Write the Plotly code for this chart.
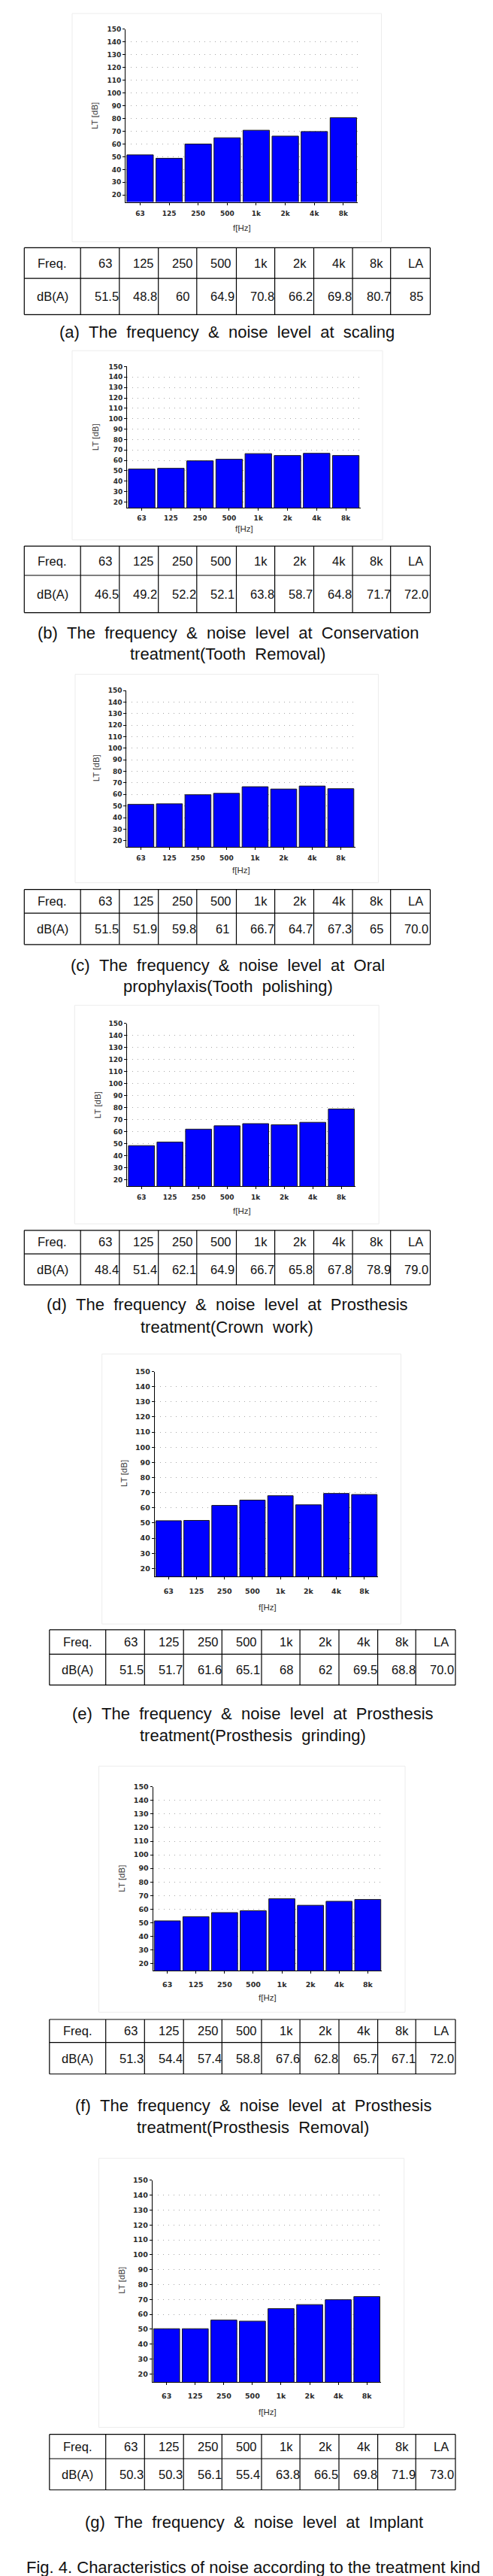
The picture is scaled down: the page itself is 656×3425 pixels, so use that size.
import plotly.graph_objects as go

W, H = 656, 3425

# ---------------- data ----------------
freq_labels = ["63", "125", "250", "500", "1k", "2k", "4k", "8k"]
table_header = ["Freq.", "63", "125", "250", "500", "1k", "2k", "4k", "8k", "LA"]
row_label = "dB(A)"
y_ticks = list(range(20, 151, 10))

bars_a = [51.5, 48.8, 60, 64.9, 70.8, 66.2, 69.8, 80.7]
bars_b = [51.7, 52.4, 59.6, 61.1, 66.5, 64.7, 66.8, 64.7]
bars_c = [51.5, 51.9, 59.8, 61, 66.7, 64.7, 67.3, 65]
bars_d = [48.4, 51.4, 62.1, 64.9, 66.7, 65.8, 67.8, 78.9]
bars_e = [51.5, 51.7, 61.6, 65.1, 68, 62, 69.5, 68.8]
bars_f = [51.3, 54.4, 57.4, 58.8, 67.6, 62.8, 65.7, 67.1]
bars_g = [50.3, 50.3, 56.1, 55.4, 63.8, 66.5, 69.8, 71.9]

table_a = ["51.5", "48.8", "60", "64.9", "70.8", "66.2", "69.8", "80.7", "85"]
table_b = ["46.5", "49.2", "52.2", "52.1", "63.8", "58.7", "64.8", "71.7", "72.0"]
table_c = ["51.5", "51.9", "59.8", "61", "66.7", "64.7", "67.3", "65", "70.0"]
table_d = ["48.4", "51.4", "62.1", "64.9", "66.7", "65.8", "67.8", "78.9", "79.0"]
table_e = ["51.5", "51.7", "61.6", "65.1", "68", "62", "69.5", "68.8", "70.0"]
table_f = ["51.3", "54.4", "57.4", "58.8", "67.6", "62.8", "65.7", "67.1", "72.0"]
table_g = ["50.3", "50.3", "56.1", "55.4", "63.8", "66.5", "69.8", "71.9", "73.0"]

cap_a = ["(a) The frequency & noise level at scaling"]
cap_b = ["(b) The frequency & noise level at Conservation", "treatment(Tooth Removal)"]
cap_c = ["(c) The frequency & noise level at Oral", "prophylaxis(Tooth polishing)"]
cap_d = ["(d) The frequency & noise level at Prosthesis", "treatment(Crown work)"]
cap_e = ["(e) The frequency & noise level at Prosthesis", "treatment(Prosthesis grinding)"]
cap_f = ["(f) The frequency & noise level at Prosthesis", "treatment(Prosthesis Removal)"]
cap_g = ["(g) The frequency & noise level at Implant"]
fig_caption = "Fig. 4. Characteristics of noise according to the treatment kind"
x_title = "f[Hz]"
y_title = "LT [dB]"

# ---------------- layout (pixel positions) ----------------
COLS = [24.3, 99.2, 150.8, 202.7, 253.8, 306.5, 357.6, 409.5, 461.1, 511.7, 564.5]
panels = [
    dict(bars=bars_a, table=table_a, cap=cap_a, box=(88, 4, 499.6, 308),
         plot=(159.1, 468.2, 25, 245.7), fx=(314, 289.3), lt=(118, 140), xlab=14,
         rows=(316, 356.7, 405), dx=0, cap_y=[428.3], cap_cx=294, fs=9),
    dict(bars=bars_b, table=table_b, cap=cap_b, box=(88, 453, 501, 705),
         plot=(161.2, 471.5, 474.3, 654.7), fx=(317, 690), lt=(119.3, 568), xlab=12,
         rows=(713.3, 752.3, 802), dx=0, cap_y=[829.3, 857.3], cap_cx=295, fs=9),
    dict(bars=bars_c, table=table_c, cap=cap_c, box=(92, 884, 495.4, 1161.7),
         plot=(160.4, 464.5, 905.7, 1105.7), fx=(313, 1145), lt=(120, 1009), xlab=13,
         rows=(1170.7, 1202.3, 1244), dx=0, cap_y=[1271.7, 1300], cap_cx=295, fs=9),
    dict(bars=bars_d, table=table_d, cap=cap_d, box=(91.3, 1325, 496.2, 1616),
         plot=(161.2, 465.2, 1349.3, 1557.3), fx=(314, 1598.3), lt=(121.4, 1457.3), xlab=13,
         rows=(1624.7, 1656, 1697.3), dx=0, cap_y=[1724, 1753.3], cap_cx=294, fs=9),
    dict(bars=bars_e, table=table_e, cap=cap_e, box=(127.7, 1789.3, 525.5, 2149),
         plot=(197.7, 495.4, 1812.7, 2075), fx=(347.6, 2126.7), lt=(157, 1948.3), xlab=17,
         rows=(2156.7, 2189.3, 2230.3), dx=33.5, cap_y=[2268.3, 2297.3], cap_cx=328, fs=9.5),
    dict(bars=bars_f, table=table_f, cap=cap_f, box=(123.5, 2338.3, 531, 2666),
         plot=(195.6, 500.4, 2366, 2601), fx=(348.4, 2646.7), lt=(154, 2488), xlab=16,
         rows=(2675.7, 2706.3, 2748.3), dx=33.5, cap_y=[2790.7, 2819], cap_cx=328.7, fs=9.5),
    dict(bars=bars_g, table=table_g, cap=cap_g, box=(123.5, 2860.7, 529.7, 3219),
         plot=(194.7, 499.2, 2890, 3147.7), fx=(347.6, 3198.3), lt=(153.7, 3023.3), xlab=17,
         rows=(3228.3, 3260.7, 3302.3), dx=33.5, cap_y=[3345], cap_cx=329.8, fs=9.5),
]

YMIN = 14.5
TICK_FONT = "DejaVu Sans"
TEXT_FONT = "Liberation Sans, Arial, sans-serif"
TABLE_FS = 16.5
CAP_FS = 22

AW = {'0': .556, '1': .556, '2': .556, '3': .556, '4': .556, '5': .556, '6': .556,
      '7': .556, '8': .556, '9': .556, '.': .278, 'k': .5, 'L': .556, 'A': .667}


def tw(s, size):
    return sum(AW.get(c, .556) for c in s) * size


def px(x):
    return x / W


def py(y):
    return 1 - y / H


fig = go.Figure()
annotations = []
shapes = []
axes = {}

for i, p in enumerate(panels, start=1):
    xa = 'x' if i == 1 else f'x{i}'
    ya = 'y' if i == 1 else f'y{i}'
    xl = 'xaxis' if i == 1 else f'xaxis{i}'
    yl = 'yaxis' if i == 1 else f'yaxis{i}'
    x0, x1, y150, y20 = p['plot']
    per = (y20 - y150) / 130.0
    ybot = y20 + (20 - YMIN) * per

    fig.add_trace(go.Bar(
        x=freq_labels, y=p['bars'], xaxis=xa, yaxis=ya,
        marker=dict(color='#0000ff', line=dict(color='#1a1a1a', width=1)),
        showlegend=False, hoverinfo='skip'))

    axes[xl] = dict(domain=[px(x0), px(x1)], anchor=ya, type='category',
                    categoryorder='array', categoryarray=freq_labels,
                    range=[-0.5, 7.5], showline=True, linecolor='black', linewidth=1,
                    ticks='outside', ticklen=3, tickcolor='black', tickwidth=1,
                    tickfont=dict(family=TICK_FONT, size=p['fs'], color='#2a2a2a', weight='bold'),
                    ticklabelstandoff=int(max(0, p['xlab'] - 10)), showgrid=False, zeroline=False,
                    fixedrange=True)
    axes[yl] = dict(domain=[py(ybot), py(y150)], anchor=xa, range=[YMIN, 150],
                    tickmode='array', tickvals=y_ticks,
                    showline=True, linecolor='black', linewidth=1,
                    ticks='outside', ticklen=3, tickcolor='black', tickwidth=1,
                    tickfont=dict(family=TICK_FONT, size=p['fs'], color='#2a2a2a', weight='bold'),
                    showgrid=True, gridcolor='#a8a8a8', gridwidth=1, griddash='1px,6px',
                    zeroline=False, fixedrange=True)

    # chart image frame
    bx0, by0, bx1, by1 = p['box']
    shapes.append(dict(type='rect', xref='paper', yref='paper', x0=px(bx0), x1=px(bx1),
                       y0=py(by1), y1=py(by0), line=dict(color='#ececec', width=1),
                       layer='below'))

    # axis titles
    annotations.append(dict(text=x_title, xref='paper', yref='paper', x=px(p['fx'][0]),
                            y=py(p['fx'][1]), xanchor='center', yanchor='middle',
                            showarrow=False, font=dict(family=TEXT_FONT, size=11.5, color='#333')))
    annotations.append(dict(text=y_title, xref='paper', yref='paper', x=px(p['lt'][0]),
                            y=py(p['lt'][1]), xanchor='center', yanchor='middle', textangle=-90,
                            showarrow=False, font=dict(family=TEXT_FONT, size=11.5, color='#333')))

    # table
    cols = [c + p['dx'] for c in COLS]
    r0, r1, r2 = p['rows']
    for ry in (r0, r1, r2):
        shapes.append(dict(type='line', xref='paper', yref='paper', x0=px(cols[0]), x1=px(cols[-1]),
                           y0=py(ry), y1=py(ry), line=dict(color='black', width=1.2)))
    for cx in cols:
        shapes.append(dict(type='line', xref='paper', yref='paper', x0=px(cx), x1=px(cx),
                           y0=py(r2), y1=py(r0), line=dict(color='black', width=1.2)))
    row_texts = [table_header, [row_label] + p['table']]
    row_centers = [(r0 + r1) / 2, (r1 + r2) / 2]
    for rt, rc in zip(row_texts, row_centers):
        for j, t in enumerate(rt):
            cl, cr = cols[j], cols[j + 1]
            if j == 0:
                xpos, anc = (cl + cr) / 2, 'center'
            else:
                w = tw(t, TABLE_FS)
                if w > (cr - cl) - 26:
                    xpos, anc = cl + 17.5, 'left'
                else:
                    xpos, anc = cr - 8.5, 'right'
            annotations.append(dict(text=t, xref='paper', yref='paper', x=px(xpos), y=py(rc),
                                    xanchor=anc, yanchor='middle', showarrow=False, borderpad=0,
                                    font=dict(family=TEXT_FONT, size=TABLE_FS, color='#111')))

    # caption
    for line, cy in zip(p['cap'], p['cap_y']):
        annotations.append(dict(text=line.replace(' ', ' \u00a0'), xref='paper', yref='paper',
                                x=px(p['cap_cx']), y=py(cy), xanchor='center', yanchor='middle',
                                showarrow=False, borderpad=0,
                                font=dict(family=TEXT_FONT, size=CAP_FS, color='#111')))

annotations.append(dict(text=fig_caption, xref='paper', yref='paper', x=px(328.7), y=py(3405),
                        xanchor='center', yanchor='middle', showarrow=False, borderpad=0,
                        font=dict(family=TEXT_FONT, size=CAP_FS, color='#111')))

fig.update_layout(width=W, height=H, autosize=False,
                  margin=dict(l=0, r=0, t=0, b=0, pad=0),
                  paper_bgcolor='white', plot_bgcolor='white',
                  bargap=0.09, showlegend=False,
                  annotations=annotations, shapes=shapes, **axes)

fig.write_html("out.html")
